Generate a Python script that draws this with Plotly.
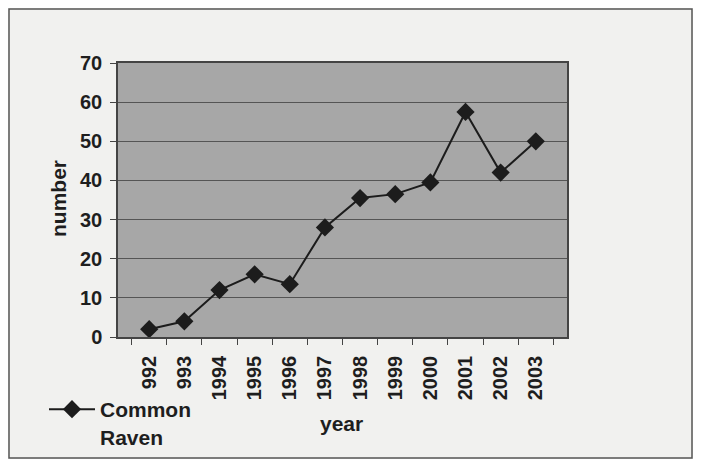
import plotly.graph_objects as go

years = ["992", "993", "1994", "1995", "1996", "1997", "1998", "1999", "2000", "2001", "2002", "2003"]
raven = [2, 4, 12, 16, 13.5, 28, 35.5, 36.5, 39.5, 57.5, 42, 50]
y_ticks = [0, 10, 20, 30, 40, 50, 60, 70]

# page has an 8px body margin; size the figure so no scrollbars appear
OFF = 8
PL, PR, PT, PB = 118, 567, 63, 337          # plot area in page pixels
W, H = 701 - 2 * OFF, 467 - 2 * OFF
L, T = PL - OFF, PT - OFF
R, B = W - (PR - OFF), H - (PB - OFF)

def px(x):
    return (x - PL) / (PR - PL)

def py(y):
    return (PB - y) / (PB - PT)

FAM = "Liberation Sans, Arial, sans-serif"
INK = "#1e1e1e"

fig = go.Figure()
fig.add_trace(go.Scatter(
    x=years, y=raven, name="<b>Common</b><br><b>Raven</b>", mode="lines+markers",
    line=dict(color="#1c1c1c", width=2),
    marker=dict(symbol="diamond", size=14, color="#1c1c1c"),
))

fig.update_layout(
    width=W, height=H,
    margin=dict(l=L, r=R, t=T, b=B, pad=0, autoexpand=False),
    paper_bgcolor="#f1f1ef",
    plot_bgcolor="#a7a7a7",
    font=dict(family=FAM, size=21, color=INK),
    showlegend=True,
    legend=dict(x=px(44), y=py(389), xanchor="left", yanchor="top", valign="top",
                bgcolor="rgba(0,0,0,0)", font=dict(family=FAM, size=21, color=INK),
                itemwidth=46),
    xaxis=dict(type="category", tickmode="array", tickvals=years,
               ticktext=["<b>%s</b>" % y for y in years],
               tickangle=-90, ticks="outside", tickson="boundaries",
               ticklen=6, tickcolor="#444", showgrid=False, linecolor="#444",
               linewidth=1.5, mirror=True, ticklabelstandoff=9, automargin=False,
               tickfont=dict(family=FAM, size=20, color=INK)),
    yaxis=dict(range=[0, 70], tickmode="array", tickvals=y_ticks,
               ticktext=["<b>%d</b>" % v for v in y_ticks],
               ticks="outside", ticklen=6, tickcolor="#444",
               gridcolor="#555555", gridwidth=1, linecolor="#444", linewidth=1.5,
               mirror=True, zeroline=False, ticklabelstandoff=4, automargin=False,
               tickfont=dict(family=FAM, size=20, color=INK)),
    annotations=[
        dict(text="<b>year</b>", x=px(341), y=py(423), xref="paper", yref="paper",
             xanchor="center", yanchor="middle",
             showarrow=False, font=dict(family=FAM, size=21, color=INK)),
        dict(text="<b>number</b>", x=px(58), y=py(198), xref="paper", yref="paper",
             xanchor="center", yanchor="middle",
             showarrow=False, textangle=-90, font=dict(family=FAM, size=21, color=INK)),
    ],
    shapes=[
        dict(type="rect", xref="paper", yref="paper",
             x0=px(9), x1=px(692), y0=py(458), y1=py(9),
             line=dict(color="#555", width=1.5), fillcolor="rgba(0,0,0,0)", layer="below"),
    ],
)

fig.write_html("out.html")
